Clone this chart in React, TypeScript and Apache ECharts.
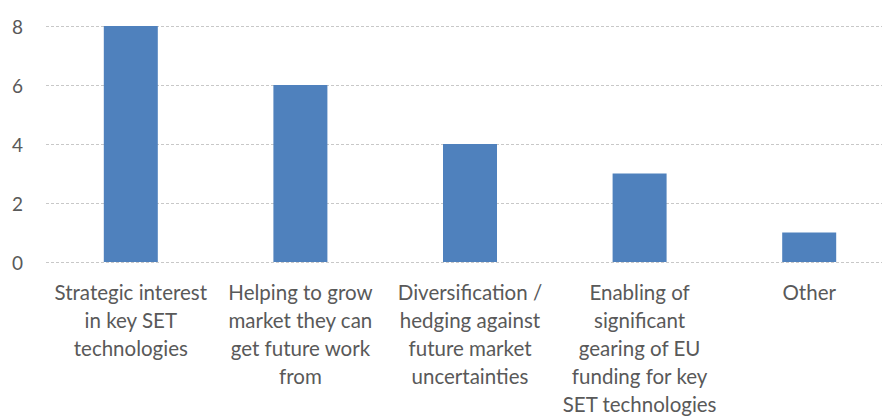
import React, { useEffect, useRef } from "react";
import * as echarts from "echarts";

const categories = [
  "Strategic interest\nin key SET\ntechnologies",
  "Helping to grow\nmarket they can\nget future work\nfrom",
  "Diversification /\nhedging against\nfuture market\nuncertainties",
  "Enabling of\nsignificant\ngearing of EU\nfunding for key\nSET technologies",
  "Other",
];
const values = [8, 6, 4, 3, 1];
const yTicks = { min: 0, max: 8, interval: 2 };

export default function App() {
  const ref = useRef<HTMLDivElement>(null);
  useEffect(() => {
    if (!ref.current) return;
    const chart = echarts.init(ref.current, null, { renderer: "svg" });
    chart.setOption({
      animation: false,
      backgroundColor: "#ffffff",
      grid: { left: 46, top: 26, width: 848, height: 236, containLabel: false },
      xAxis: {
        type: "category",
        data: categories,
        axisLine: { show: false },
        axisTick: { show: false },
        axisLabel: {
          interval: 0,
          margin: 16,
          color: "#595959",
          fontFamily: "Lato",
          fontSize: 20.5,
          lineHeight: 28,
          align: "center",
          verticalAlign: "top",
        },
      },
      yAxis: {
        type: "value",
        min: yTicks.min,
        max: yTicks.max,
        interval: yTicks.interval,
        axisLine: { show: false },
        axisTick: { show: false },
        axisLabel: {
          margin: 23,
          color: "#595959",
          fontFamily: "Lato",
          fontSize: 19,
        },
        splitLine: { lineStyle: { color: "#c8c8c8", type: [3, 2], width: 1 } },
      },
      series: [
        {
          type: "bar",
          data: values,
          barWidth: 54,
          itemStyle: { color: "#4f81bd" },
        },
      ],
    });
    return () => chart.dispose();
  }, []);
  return (
    <div
      style={{ position: "absolute", left: 0, top: 0, width: 882, height: 419, overflow: "hidden", background: "#fff" }}
    >
      <div ref={ref} style={{ width: 920, height: 419 }} />
    </div>
  );
}
